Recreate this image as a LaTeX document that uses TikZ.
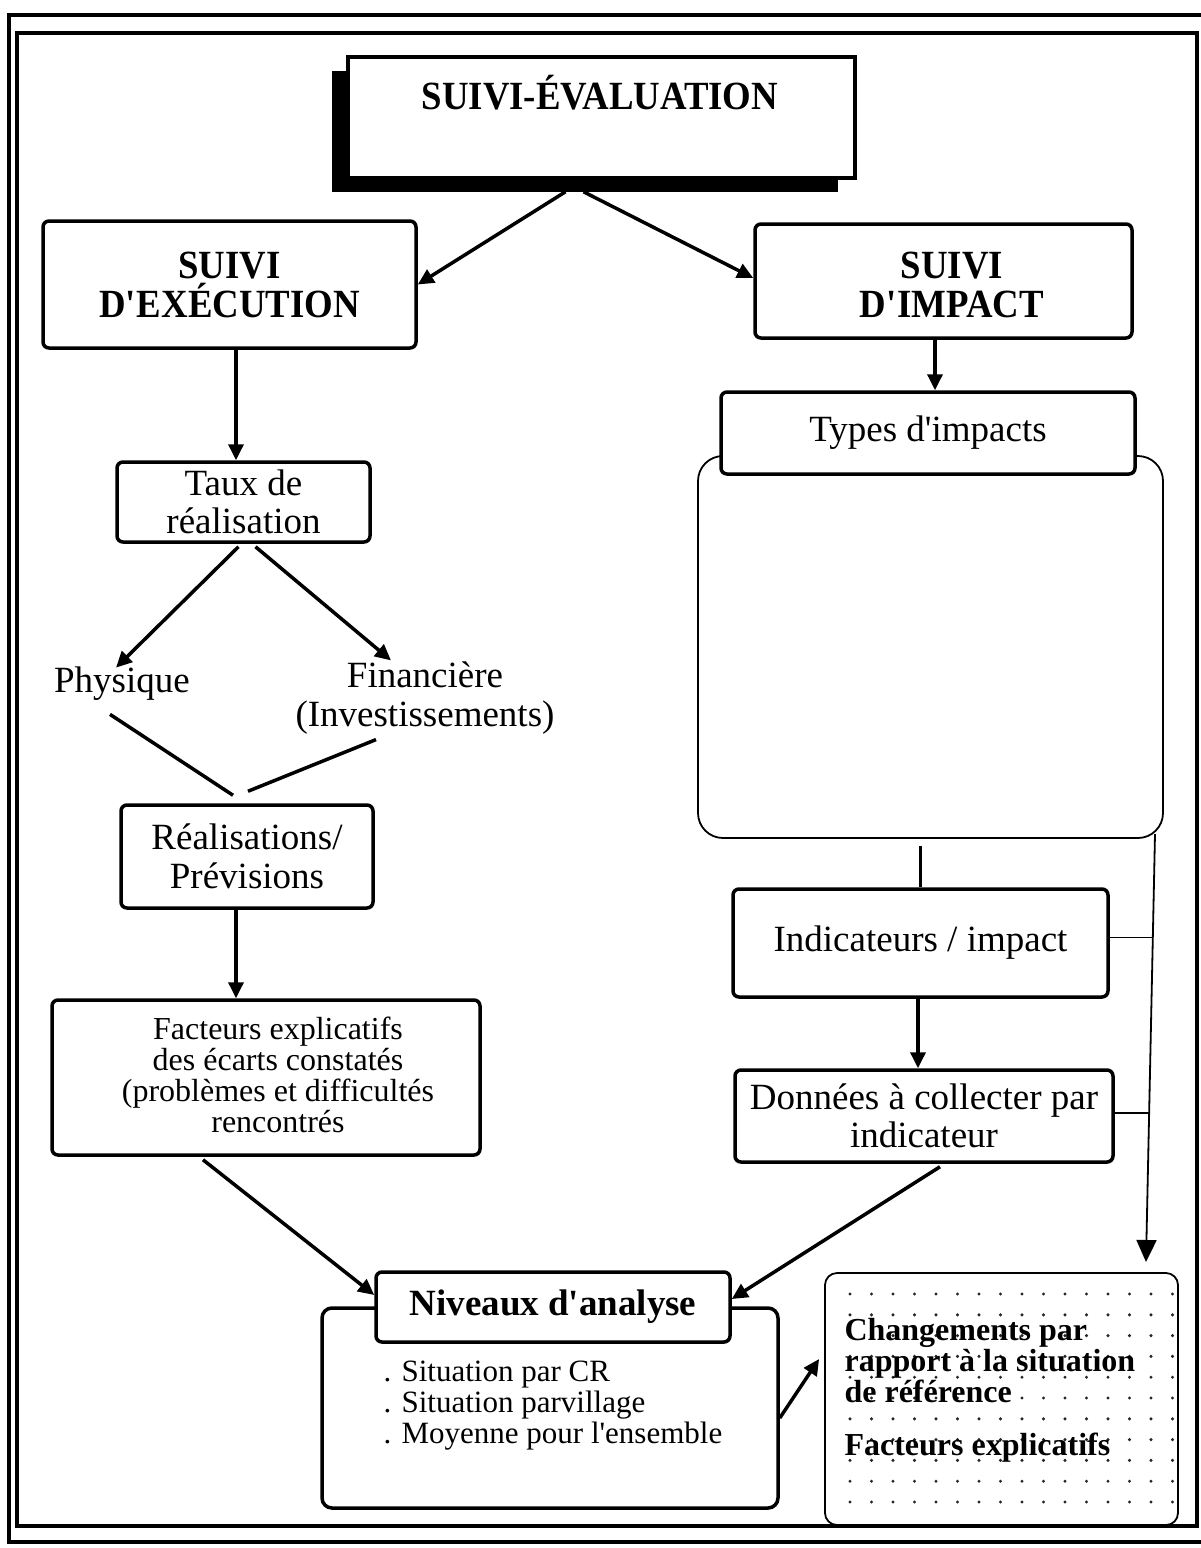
\documentclass[tikz,border=0pt]{standalone}
\usepackage{fontspec}
\setmainfont{Liberation Serif}
\newfontfamily\condserif[FakeStretch=0.92]{Liberation Serif}
\usetikzlibrary{arrows.meta,calc}
\begin{document}
\begin{tikzpicture}[x=1pt,y=-1pt,
  tbox/.style={draw, line width=3.5pt, rounded corners=6pt, fill=white, inner sep=0pt, align=center},
  hfont/.style={font=\condserif\bfseries\fontsize{40}{39}\selectfont},
  nfont/.style={font=\bfseries\fontsize{37}{39}\selectfont},
  rfont/.style={font=\fontsize{37}{38.5}\selectfont},
  sfont/.style={font=\fontsize{32}{31}\selectfont},
  lfont/.style={font=\fontsize{31}{31}\selectfont},
  cfont/.style={font=\bfseries\fontsize{32}{31}\selectfont},
  arr/.style={line width=3.5pt, -{Triangle[length=16pt,width=15pt]}},
  plain/.style={line width=3.5pt},
  thinline/.style={line width=1.8pt},
  frame/.style={line width=3.5pt}]
\useasboundingbox (0,0) rectangle (1201,1548);
\fill[white] (0,0) rectangle (1201,1548);
\clip (0,0) rectangle (1201,1548);
% page frame
\draw[frame] (9,15) rectangle (1230,1542);
\draw[frame] (17,33) rectangle (1197,1526);
% top box with shadow
\fill (332,71) rectangle (838,192);
\node[tbox, rounded corners=0pt, minimum width=507pt, minimum height=121pt] (se) at (601.5,117.5) {};
\node[hfont] (setxt) at (600,93) {SUIVI-ÉVALUATION};
% left column
\node[tbox, hfont, minimum width=373pt, minimum height=127pt] (sde) at (229.5,284.5) {SUIVI\\D\textquotesingle EXÉCUTION};
\node[tbox, rfont, minimum width=253pt, minimum height=80pt] (taux) at (243.5,502) {Taux de\\réalisation};
\node[rfont] (phys) at (122,684) {Physique};
\node[rfont, align=center] (fin) at (425,698) {Financière\\(Investissements)};
\node[tbox, rfont, minimum width=252pt, minimum height=103pt] (real) at (247,856.5) {Réalisations/\\Prévisions};
\node[tbox, minimum width=428pt, minimum height=155pt] (fact) at (266,1077.5) {};
\node[sfont, align=center] (facttxt) at (278,1075) {Facteurs explicatifs\\des écarts constatés\\(problèmes et difficultés\\rencontrés};
% right column
\node[tbox, minimum width=377pt, minimum height=114pt] (sdi) at (943.5,281) {};
\node[hfont, align=center] (sditxt) at (952,285) {SUIVI\\D\textquotesingle IMPACT};
\node[draw, line width=1.8pt, rounded corners=25pt, minimum width=465pt, minimum height=382pt] (big) at (930.5,647) {};
\node[tbox, rfont, minimum width=414pt, minimum height=82pt] (types) at (928,433) {Types d\textquotesingle impacts};
\node[tbox, rfont, minimum width=375pt, minimum height=108pt] (indic) at (920.5,943) {Indicateurs / impact};
\node[tbox, rfont, minimum width=378pt, minimum height=92pt] (don) at (924,1116) {Données à collecter par\\indicateur};
% bottom
\node[tbox, rounded corners=10pt, minimum width=456pt, minimum height=200pt] (nivb) at (550,1408) {};
\node[tbox, nfont, minimum width=354pt, minimum height=70pt] (niv) at (553,1307) {Niveaux d\textquotesingle analyse};
\node[lfont, align=left, anchor=west] (list) at (380,1406) {. Situation par CR\\. Situation parvillage\\. Moyenne pour l\textquotesingle ensemble};
\node[draw, line width=1.8pt, rounded corners=12pt, minimum width=353pt, minimum height=252pt] (dotb) at (1001.5,1399) {};
\foreach \i in {0,...,15} \foreach \j in {0,...,10}
  \fill[black!85] (850+\i*21.5, 1294+\j*20.8) circle (1.7pt);
\node[cfont, align=left, anchor=west] (chg) at (841,1361) {Changements par\\rapport à la situation\\de référence};
\node[cfont, anchor=west] (fex) at (841,1448) {Facteurs explicatifs};
% connectors
\draw[arr] ([xshift=-36pt,yshift=-12pt]se.south) -- (sde.east);
\draw[arr] ([xshift=-18pt,yshift=-12pt]se.south) -- ([yshift=3pt]sdi.west);
\draw[arr] ([xshift=6.5pt]sde.south) -- ([xshift=-7.5pt]taux.north);
\draw[arr] ([xshift=-5pt,yshift=-3pt]taux.south) -- ([xshift=-6pt,yshift=-4pt]phys.north);
\draw[arr] ([xshift=12pt,yshift=-3pt]taux.south) -- ([xshift=-34pt,yshift=-2pt]fin.north);
\draw[plain] ([xshift=-12pt,yshift=-10pt]phys.south) -- ([xshift=-14pt,yshift=8pt]real.north);
\draw[plain] ([xshift=-49pt,yshift=-2pt]fin.south) -- ([xshift=1pt,yshift=12pt]real.north);
\draw[arr] ([xshift=-11pt]real.south) -- ([xshift=-30pt]fact.north);
\draw[arr] ([xshift=-63pt,yshift=-3pt]fact.south) -- ([yshift=12pt]niv.west);
\draw[arr] ([xshift=-8.5pt]sdi.south) -- ([xshift=7pt]types.north);
\draw[line width=3pt] ([yshift=-7pt]big.south -| indic.north) -- (indic.north);
\draw[arr] ([xshift=-2.5pt]indic.south) -- ([xshift=-6pt]don.north);
\draw[arr] ([xshift=16pt,yshift=-3pt]don.south) -- ([yshift=8pt]niv.east);
\draw[arr] ([yshift=-10pt]nivb.east) -- ([yshift=40pt,xshift=-5pt]dotb.west);
\coordinate (rtop) at (1155,834);
\coordinate (rend) at (1146,1262);
\draw[thinline, -{Triangle[length=22pt,width=20pt]}] (rtop) -- (rend);
\coordinate (rA) at ($(rtop)!0.242!(rend)$);
\coordinate (rB) at ($(rtop)!0.652!(rend)$);
\draw[thinline] (indic.east |- rA) -- (rA);
\draw[thinline] (don.east |- rB) -- (rB);
\end{tikzpicture}
\end{document}
